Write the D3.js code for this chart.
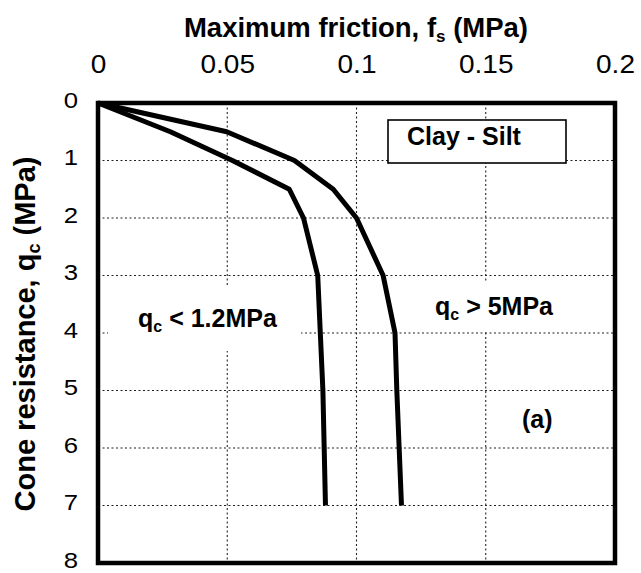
<!DOCTYPE html>
<html>
<head>
<meta charset="utf-8">
<script src="https://cdn.jsdelivr.net/npm/d3@7"></script>
<style>
  html, body { margin: 0; padding: 0; background: #fff; }
  svg { display: block; font-family: Arial, "Liberation Sans", Helvetica, sans-serif; }
</style>
</head>
<body>
<svg id="chart" width="641" height="573"></svg>
<script>
// ---- data ----
const xTicks = [0, 0.05, 0.1, 0.15, 0.2];
const xTickLabels = ["0", "0.05", "0.1", "0.15", "0.2"];
const yTicks = [0, 1, 2, 3, 4, 5, 6, 7, 8];
const yTickLabels = ["0", "1", "2", "3", "4", "5", "6", "7", "8"];

// q_c < 1.2 MPa
const qcLow = [0, 0.5, 1, 1.5, 2, 3, 4, 5, 6, 7];
const fsLow = [0, 0.028, 0.052, 0.074, 0.0795, 0.085, 0.086, 0.087, 0.0875, 0.088];
// q_c > 5 MPa
const qcHigh = [0, 0.5, 1, 1.5, 2, 3, 4, 5, 6, 7];
const fsHigh = [0, 0.0498, 0.076, 0.091, 0.100, 0.1103, 0.1149, 0.1156, 0.1165, 0.1174];

const svg = d3.select("#chart");
const L = 98, R = 615, T = 103, B = 563;
const x = d3.scaleLinear().domain([0, 0.2]).range([L, R]);
const y = d3.scaleLinear().domain([0, 8]).range([T, B]);

// gridlines
const grid = svg.append("g").attr("stroke", "#222").attr("stroke-width", 1.1)
  .attr("stroke-dasharray", "2,2.5");
grid.selectAll("line.v").data([0.05, 0.1, 0.15]).enter().append("line")
  .attr("x1", d => x(d)).attr("x2", d => x(d)).attr("y1", T).attr("y2", B);
grid.selectAll("line.h").data([1, 2, 3, 4, 5, 6, 7]).enter().append("line")
  .attr("x1", L).attr("x2", R).attr("y1", d => y(d)).attr("y2", d => y(d));

// white label backgrounds (hide gridlines behind annotation text)
svg.append("rect").attr("x", 108).attr("y", 287).attr("width", 193).attr("height", 64).attr("fill", "#fff");
svg.append("rect").attr("x", 420).attr("y", 283).attr("width", 150).attr("height", 47).attr("fill", "#fff");

// curves
const line = d3.line().x(d => x(d[0])).y(d => y(d[1]));
const series = [
  fsLow.map((f, i) => [f, qcLow[i]]),
  fsHigh.map((f, i) => [f, qcHigh[i]])
];
svg.append("g").selectAll("path").data(series).enter().append("path")
  .attr("d", line).attr("fill", "none").attr("stroke", "#000")
  .attr("stroke-width", 5).attr("stroke-linejoin", "round");

// frame
svg.append("rect").attr("x", L).attr("y", T).attr("width", R - L).attr("height", B - T)
  .attr("fill", "none").attr("stroke", "#000").attr("stroke-width", 4.5);

// axes
const xAxis = d3.axisTop(x).tickValues(xTicks).tickSize(0).tickPadding(0)
  .tickFormat((d, i) => xTickLabels[i]);
const gx = svg.append("g").attr("transform", "translate(0,73)").call(xAxis);
gx.select(".domain").remove();
gx.selectAll("text").attr("font-size", 25).attr("fill", "#000")
  .attr("font-family", "Arial, 'Liberation Sans', sans-serif").attr("dy", 0)
  .attr("transform", "scale(1.12,1)");

const yAxis = d3.axisLeft(y).tickValues(yTicks).tickSize(0).tickPadding(0)
  .tickFormat((d, i) => yTickLabels[i]);
const gy = svg.append("g").attr("transform", "translate(78,-3)").call(yAxis);
gy.select(".domain").remove();
gy.selectAll("text").attr("font-size", 23).attr("fill", "#000")
  .attr("font-family", "Arial, 'Liberation Sans', sans-serif")
  .attr("transform", "scale(1.12,1)");

// titles
const xt = svg.append("text").attr("x", 356).attr("y", 37).attr("text-anchor", "middle")
  .attr("font-size", 27.5).attr("font-weight", "bold");
xt.append("tspan").text("Maximum friction, f");
xt.append("tspan").text("s").attr("font-size", 17).attr("dy", 5);
xt.append("tspan").text(" (MPa)").attr("dy", -5);

const yt = svg.append("text").attr("transform", "translate(35,334) rotate(-90)")
  .attr("text-anchor", "middle").attr("font-size", 29).attr("font-weight", "bold");
yt.append("tspan").text("Cone resistance, q");
yt.append("tspan").text("c").attr("font-size", 18).attr("dy", 5);
yt.append("tspan").text(" (MPa)").attr("dy", -5);

// Clay - Silt box
svg.append("rect").attr("x", 388).attr("y", 120).attr("width", 178).attr("height", 43)
  .attr("fill", "#fff").attr("stroke", "#000").attr("stroke-width", 1.6);
svg.append("text").attr("x", 407).attr("y", 145).attr("font-size", 25)
  .attr("font-weight", "bold").text("Clay - Silt");

// annotations
function qlabel(xp, yp, rest) {
  const t = svg.append("text").attr("x", xp).attr("y", yp).attr("font-size", 25).attr("font-weight", "bold");
  t.append("tspan").text("q");
  t.append("tspan").text("c").attr("font-size", 16).attr("dy", 5);
  t.append("tspan").text(rest).attr("dy", -5);
}
qlabel(138, 327, " < 1.2MPa");
qlabel(435, 315, " > 5MPa");
svg.append("text").attr("x", 522).attr("y", 428).attr("font-size", 25)
  .attr("font-weight", "bold").text("(a)");
</script>
</body>
</html>
